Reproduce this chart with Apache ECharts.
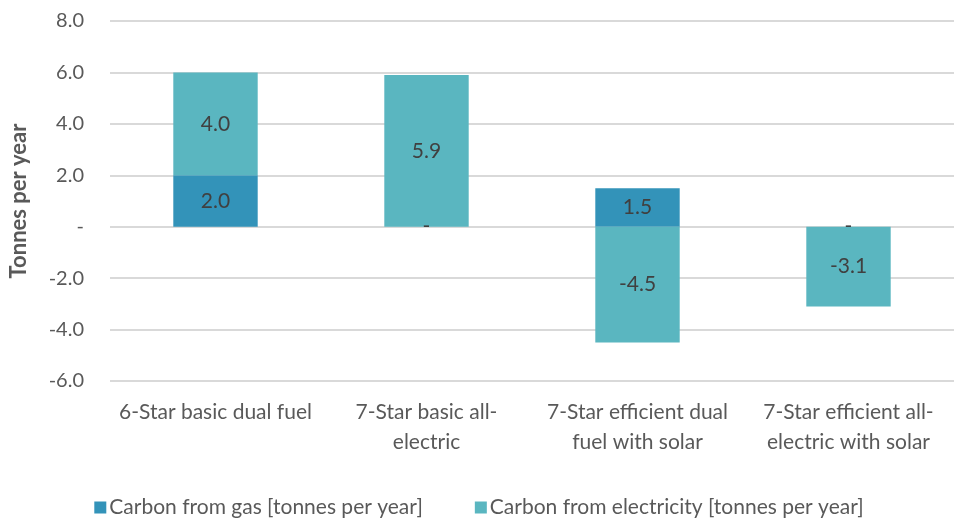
<!DOCTYPE html>
<html>
<head>
<meta charset="utf-8">
<script src="https://cdn.jsdelivr.net/npm/echarts@6/dist/echarts.min.js"></script>
<style>
    html, body { margin: 0; padding: 0; background: #fff; }
    #chart { width: 958px; height: 522px; }
</style>
</head>
<body>
<div id="chart"></div>
<script>
    var categories = [
        '6-Star basic dual fuel',
        '7-Star basic all-\nelectric',
        '7-Star efficient dual\nfuel with solar',
        '7-Star efficient all-\nelectric with solar'
    ]
    var gas = [2.0, 0, 1.5, 0]
    var electricity = [4.0, 5.9, -4.5, -3.1]
    var seriesNames = ['Carbon from gas [tonnes per year]', 'Carbon from electricity [tonnes per year]']

    var font = 'Lato, "Open Sans", sans-serif'
    var fmt = function (v) {
        return v === 0 ? '-' : v.toFixed(1)
    }

    var chart = echarts.init(document.getElementById('chart'))
    chart.setOption({
        animation: false,
        textStyle: {fontFamily: font},
        grid: {left: 108, right: 4, top: 21, bottom: 141},
        legend: {
            bottom: -1,
            left: 'center',
            itemWidth: 12,
            itemHeight: 12,
            itemGap: 52,
            icon: 'rect',
            textStyle: {fontFamily: font, fontSize: 21, color: '#595959', padding: [0, 0, 0, -2]},
            data: seriesNames
        },
        xAxis: {
            type: 'category',
            data: categories,
            axisLine: {show: false},
            axisTick: {show: false},
            axisLabel: {
                fontFamily: font,
                fontSize: 21,
                color: '#595959',
                lineHeight: 30,
                margin: 16,
                interval: 0
            }
        },
        yAxis: {
            type: 'value',
            min: -6,
            max: 8,
            interval: 2,
            name: 'Tonnes per year',
            nameLocation: 'middle',
            nameGap: 80,
            nameTextStyle: {fontFamily: font, fontSize: 22, fontWeight: 'bold', color: '#595959'},
            axisLabel: {
                fontFamily: font,
                fontSize: 20,
                color: '#595959',
                margin: 26,
                formatter: function (v) { return fmt(v) }
            },
            splitLine: {lineStyle: {color: '#d9d9d9', width: 2}}
        },
        series: [
            {
                name: seriesNames[0],
                type: 'bar',
                stack: 'total',
                barWidth: '40%',
                data: gas,
                itemStyle: {color: '#3393b9'},
                label: {
                    show: true,
                    position: 'inside',
                    fontFamily: font,
                    fontSize: 21,
                    color: '#404040',
                    formatter: function (p) { return fmt(p.value) }
                }
            },
            {
                name: seriesNames[1],
                type: 'bar',
                stack: 'total',
                barWidth: '40%',
                data: electricity,
                itemStyle: {color: '#5ab6c0'},
                label: {
                    show: true,
                    position: 'inside',
                    fontFamily: font,
                    fontSize: 21,
                    color: '#404040',
                    formatter: function (p) { return fmt(p.value) }
                }
            }
        ]
    })
</script>
</body>
</html>
